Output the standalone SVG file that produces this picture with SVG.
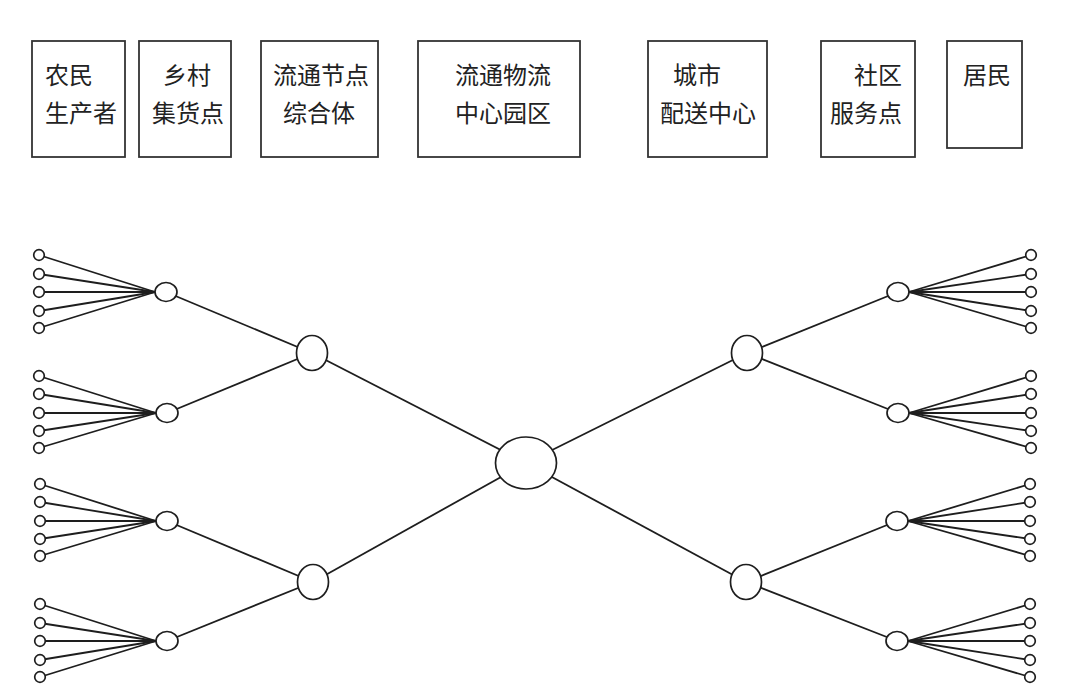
<svg xmlns="http://www.w3.org/2000/svg" width="1075" height="692" viewBox="0 0 1075 692">
<style>
.box{fill:#fff;stroke:#333;stroke-width:1.8}
.t{font-family:"Noto Sans CJK SC","Noto Sans CJK JP",sans-serif;font-size:24px;fill:#222}
.ln{stroke:#1e1e1e;stroke-width:1.8;fill:none}
.nd{fill:#fff;stroke:#1e1e1e;stroke-width:1.7}
</style>
<rect width="1075" height="692" fill="#fff"/>
<g id="box-farmers"><rect class="box" x="32" y="41" width="93" height="116"/><text class="t" x="45" y="84">农民</text><text class="t" x="45" y="122">生产者</text></g>
<g id="box-village"><rect class="box" x="139" y="41" width="92" height="116"/><text class="t" x="163" y="84">乡村</text><text class="t" x="152" y="122">集货点</text></g>
<g id="box-node"><rect class="box" x="261" y="41" width="117" height="116"/><text class="t" x="273" y="84">流通节点</text><text class="t" x="283" y="122">综合体</text></g>
<g id="box-center"><rect class="box" x="418" y="41" width="162" height="116"/><text class="t" x="455" y="84">流通物流</text><text class="t" x="455" y="122">中心园区</text></g>
<g id="box-city"><rect class="box" x="648" y="41" width="119" height="116"/><text class="t" x="673" y="84">城市</text><text class="t" x="660" y="122">配送中心</text></g>
<g id="box-community"><rect class="box" x="821" y="41" width="94" height="116"/><text class="t" x="854" y="84">社区</text><text class="t" x="830" y="122">服务点</text></g>
<g id="box-residents"><rect class="box" x="947" y="41" width="75" height="107"/><text class="t" x="963" y="84">居民</text></g>

<g id="connectors">
<line class="ln" x1="526" y1="463" x2="312" y2="353"/>
<line class="ln" x1="526" y1="463" x2="313" y2="582"/>
<line class="ln" x1="526" y1="463" x2="747" y2="353"/>
<line class="ln" x1="526" y1="463" x2="746" y2="582"/>
<line class="ln" x1="312" y1="353" x2="166" y2="292"/>
<line class="ln" x1="312" y1="353" x2="167" y2="413"/>
<line class="ln" x1="313" y1="582" x2="167" y2="521"/>
<line class="ln" x1="313" y1="582" x2="167" y2="641"/>
<line class="ln" x1="747" y1="353" x2="898" y2="292"/>
<line class="ln" x1="747" y1="353" x2="898" y2="413"/>
<line class="ln" x1="746" y1="582" x2="897" y2="521"/>
<line class="ln" x1="746" y1="582" x2="897" y2="641"/>
<line class="ln" x1="39" y1="255" x2="155" y2="292"/><line class="ln" x1="39" y1="274" x2="155" y2="292"/><line class="ln" x1="39" y1="292" x2="155" y2="292"/><line class="ln" x1="39" y1="311" x2="155" y2="292"/><line class="ln" x1="39" y1="328" x2="155" y2="292"/>
<line class="ln" x1="39" y1="376" x2="156" y2="413"/><line class="ln" x1="39" y1="394" x2="156" y2="413"/><line class="ln" x1="39" y1="413" x2="156" y2="413"/><line class="ln" x1="39" y1="431" x2="156" y2="413"/><line class="ln" x1="39" y1="448" x2="156" y2="413"/>
<line class="ln" x1="40" y1="484" x2="156" y2="521"/><line class="ln" x1="40" y1="502" x2="156" y2="521"/><line class="ln" x1="40" y1="521" x2="156" y2="521"/><line class="ln" x1="40" y1="539" x2="156" y2="521"/><line class="ln" x1="40" y1="556" x2="156" y2="521"/>
<line class="ln" x1="40" y1="604" x2="156" y2="641"/><line class="ln" x1="40" y1="623" x2="156" y2="641"/><line class="ln" x1="40" y1="641" x2="156" y2="641"/><line class="ln" x1="40" y1="660" x2="156" y2="641"/><line class="ln" x1="40" y1="677" x2="156" y2="641"/>
<line class="ln" x1="1031" y1="255" x2="909" y2="292"/><line class="ln" x1="1031" y1="274" x2="909" y2="292"/><line class="ln" x1="1031" y1="292" x2="909" y2="292"/><line class="ln" x1="1031" y1="311" x2="909" y2="292"/><line class="ln" x1="1031" y1="328" x2="909" y2="292"/>
<line class="ln" x1="1031" y1="376" x2="909" y2="413"/><line class="ln" x1="1031" y1="394" x2="909" y2="413"/><line class="ln" x1="1031" y1="413" x2="909" y2="413"/><line class="ln" x1="1031" y1="431" x2="909" y2="413"/><line class="ln" x1="1031" y1="448" x2="909" y2="413"/>
<line class="ln" x1="1030" y1="484" x2="908" y2="521"/><line class="ln" x1="1030" y1="502" x2="908" y2="521"/><line class="ln" x1="1030" y1="521" x2="908" y2="521"/><line class="ln" x1="1030" y1="539" x2="908" y2="521"/><line class="ln" x1="1030" y1="556" x2="908" y2="521"/>
<line class="ln" x1="1030" y1="604" x2="908" y2="641"/><line class="ln" x1="1030" y1="623" x2="908" y2="641"/><line class="ln" x1="1030" y1="641" x2="908" y2="641"/><line class="ln" x1="1030" y1="660" x2="908" y2="641"/><line class="ln" x1="1030" y1="677" x2="908" y2="641"/>
</g>

<g id="node-center"><ellipse class="nd" cx="526" cy="463" rx="30.5" ry="26"/></g>
<g id="node-mid-ul"><ellipse class="nd" cx="312" cy="353" rx="15.5" ry="17.5"/></g>
<g id="node-mid-ll"><ellipse class="nd" cx="313" cy="582" rx="15.5" ry="17.5"/></g>
<g id="node-mid-ur"><ellipse class="nd" cx="747" cy="353" rx="15.5" ry="17.5"/></g>
<g id="node-mid-lr"><ellipse class="nd" cx="746" cy="582" rx="15.5" ry="17.5"/></g>

<g id="node-hub-l1"><ellipse class="nd" cx="166" cy="292" rx="11" ry="9.5"/></g>
<g id="node-hub-l2"><ellipse class="nd" cx="167" cy="413" rx="11" ry="9.5"/></g>
<g id="node-hub-l3"><ellipse class="nd" cx="167" cy="521" rx="11" ry="9.5"/></g>
<g id="node-hub-l4"><ellipse class="nd" cx="167" cy="641" rx="11" ry="9.5"/></g>
<g id="node-hub-r1"><ellipse class="nd" cx="898" cy="292" rx="11" ry="9.5"/></g>
<g id="node-hub-r2"><ellipse class="nd" cx="898" cy="413" rx="11" ry="9.5"/></g>
<g id="node-hub-r3"><ellipse class="nd" cx="897" cy="521" rx="11" ry="9.5"/></g>
<g id="node-hub-r4"><ellipse class="nd" cx="897" cy="641" rx="11" ry="9.5"/></g>

<g id="leaves-l1"><circle class="nd" cx="39" cy="255" r="5.3"/><circle class="nd" cx="39" cy="274" r="5.3"/><circle class="nd" cx="39" cy="292" r="5.3"/><circle class="nd" cx="39" cy="311" r="5.3"/><circle class="nd" cx="39" cy="328" r="5.3"/></g>
<g id="leaves-l2"><circle class="nd" cx="39" cy="376" r="5.3"/><circle class="nd" cx="39" cy="394" r="5.3"/><circle class="nd" cx="39" cy="413" r="5.3"/><circle class="nd" cx="39" cy="431" r="5.3"/><circle class="nd" cx="39" cy="448" r="5.3"/></g>
<g id="leaves-l3"><circle class="nd" cx="40" cy="484" r="5.3"/><circle class="nd" cx="40" cy="502" r="5.3"/><circle class="nd" cx="40" cy="521" r="5.3"/><circle class="nd" cx="40" cy="539" r="5.3"/><circle class="nd" cx="40" cy="556" r="5.3"/></g>
<g id="leaves-l4"><circle class="nd" cx="40" cy="604" r="5.3"/><circle class="nd" cx="40" cy="623" r="5.3"/><circle class="nd" cx="40" cy="641" r="5.3"/><circle class="nd" cx="40" cy="660" r="5.3"/><circle class="nd" cx="40" cy="677" r="5.3"/></g>
<g id="leaves-r1"><circle class="nd" cx="1031" cy="255" r="5.3"/><circle class="nd" cx="1031" cy="274" r="5.3"/><circle class="nd" cx="1031" cy="292" r="5.3"/><circle class="nd" cx="1031" cy="311" r="5.3"/><circle class="nd" cx="1031" cy="328" r="5.3"/></g>
<g id="leaves-r2"><circle class="nd" cx="1031" cy="376" r="5.3"/><circle class="nd" cx="1031" cy="394" r="5.3"/><circle class="nd" cx="1031" cy="413" r="5.3"/><circle class="nd" cx="1031" cy="431" r="5.3"/><circle class="nd" cx="1031" cy="448" r="5.3"/></g>
<g id="leaves-r3"><circle class="nd" cx="1030" cy="484" r="5.3"/><circle class="nd" cx="1030" cy="502" r="5.3"/><circle class="nd" cx="1030" cy="521" r="5.3"/><circle class="nd" cx="1030" cy="539" r="5.3"/><circle class="nd" cx="1030" cy="556" r="5.3"/></g>
<g id="leaves-r4"><circle class="nd" cx="1030" cy="604" r="5.3"/><circle class="nd" cx="1030" cy="623" r="5.3"/><circle class="nd" cx="1030" cy="641" r="5.3"/><circle class="nd" cx="1030" cy="660" r="5.3"/><circle class="nd" cx="1030" cy="677" r="5.3"/></g>
</svg>
